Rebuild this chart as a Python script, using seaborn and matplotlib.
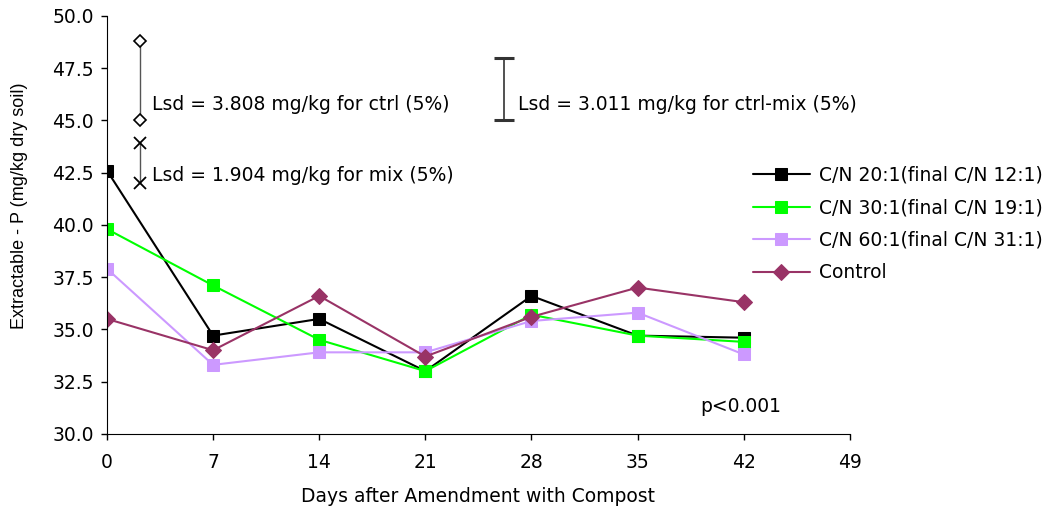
import matplotlib
matplotlib.use("Agg")
import matplotlib.pyplot as plt
import seaborn as sns
import pandas as pd

days = [0, 7, 14, 21, 28, 35, 42]
cn20 = [42.6, 34.7, 35.5, 33.0, 36.6, 34.7, 34.6]
cn30 = [39.8, 37.1, 34.5, 33.0, 35.7, 34.7, 34.4]
cn60 = [37.9, 33.3, 33.9, 33.9, 35.4, 35.8, 33.8]
control = [35.5, 34.0, 36.6, 33.7, 35.6, 37.0, 36.3]

labels = ["C/N 20:1(final C/N 12:1)", "C/N 30:1(final C/N 19:1)",
          "C/N 60:1(final C/N 31:1)", "Control"]
colors = ["#000000", "#00FF00", "#CC99FF", "#993366"]
markers = ["s", "s", "s", "D"]

# LSD bars: (day position, low, high)
lsd_ctrl = [2.2, 45.0, 48.8]
lsd_mix = [2.2, 42.0, 43.9]
lsd_ctrl_mix = [26.2, 45.0, 48.0]

sns.set_style("ticks")
plt.rcParams["font.family"] = ["DejaVu Sans"]
plt.rcParams["text.color"] = "black"
plt.rcParams["axes.labelcolor"] = "black"
fs = 13.5

fig = plt.figure(figsize=(10.53, 5.14), dpi=100)
ax = fig.add_axes([0.1016, 0.156, 0.7055, 0.813])

for vals, lab, col, mk in zip([cn20, cn30, cn60, control], labels, colors, markers):
    df = pd.DataFrame({"day": days, "p": vals})
    sns.lineplot(data=df, x="day", y="p", ax=ax, color=col, marker=mk,
                 markersize=8, markeredgecolor=col, linewidth=1.5, label=lab)

# LSD indicators
ax.plot([lsd_ctrl[0]] * 2, lsd_ctrl[1:], color="#555555", lw=1, zorder=1)
ax.plot([lsd_ctrl[0]] * 2, lsd_ctrl[1:], ls="none", marker="D", ms=6,
        mfc="white", mec="black", mew=1.2)
ax.plot([lsd_mix[0]] * 2, lsd_mix[1:], color="#555555", lw=1, zorder=1)
ax.plot([lsd_mix[0]] * 2, lsd_mix[1:], ls="none", marker="x", ms=8,
        color="black", mew=1.3)
ax.errorbar([lsd_ctrl_mix[0]], [(lsd_ctrl_mix[1] + lsd_ctrl_mix[2]) / 2],
            yerr=[(lsd_ctrl_mix[2] - lsd_ctrl_mix[1]) / 2], color="#333333",
            elinewidth=1.2, capsize=7, capthick=2.2)

ax.text(2.95, 45.75, "Lsd = 3.808 mg/kg for ctrl (5%)", fontsize=fs, va="center")
ax.text(2.95, 42.35, "Lsd = 1.904 mg/kg for mix (5%)", fontsize=fs, va="center")
ax.text(27.1, 45.75, "Lsd = 3.011 mg/kg for ctrl-mix (5%)", fontsize=fs, va="center")
ax.text(39.1, 31.3, "p<0.001", fontsize=fs, va="center")

ax.set_xlim(0, 49)
ax.set_ylim(30, 50)
ax.set_xticks(range(0, 50, 7))
ax.set_yticks([30 + 2.5 * i for i in range(9)])
ax.set_yticklabels([f"{30 + 2.5 * i:.1f}" for i in range(9)])
ax.tick_params(labelsize=fs, length=4.5, width=1, colors="black")
ax.tick_params(axis="x", pad=9)
ax.tick_params(axis="y", pad=5)
ax.set_xlabel("Days after Amendment with Compost", fontsize=fs, labelpad=11)
ax.set_ylabel("Extractable - P (mg/kg dry soil)", fontsize=13,
              family="Liberation Sans")
ax.yaxis.set_label_coords(-0.106, 0.545)
for s in ["top", "right"]:
    ax.spines[s].set_visible(False)
for s in ["left", "bottom"]:
    ax.spines[s].set_color("black")

ax.legend(loc="center left", bbox_to_anchor=(0.86, 0.502), frameon=False,
          fontsize=fs, handlelength=3, handletextpad=0.5, labelspacing=0.72,
          borderaxespad=0)

fig.savefig("out.png", dpi=100)
